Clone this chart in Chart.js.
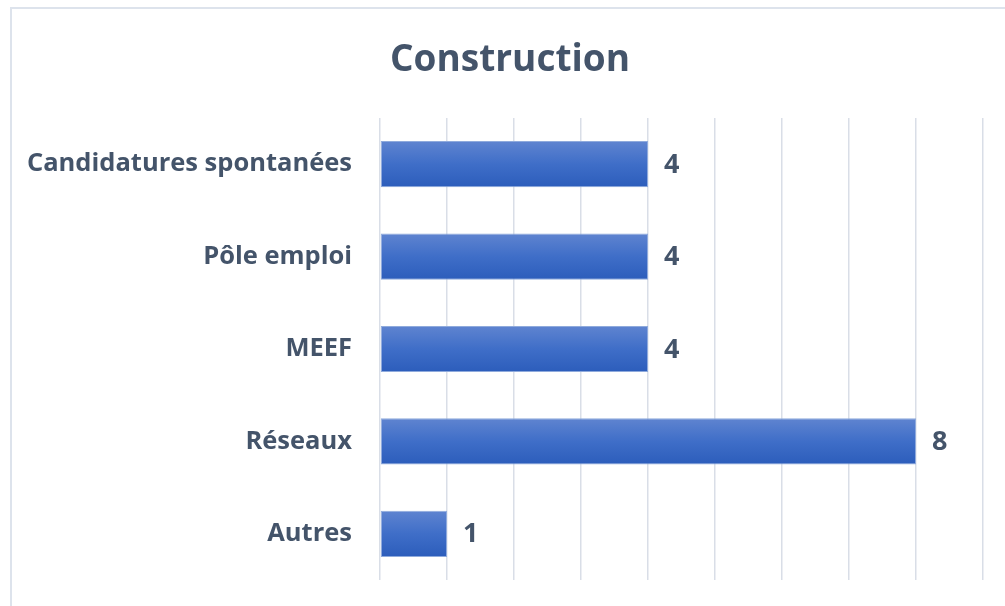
<!DOCTYPE html>
<html>
<head>
<meta charset="utf-8">
<script src="https://cdn.jsdelivr.net/npm/chart.js@4/dist/chart.umd.min.js"></script>
<style>
  html, body { margin: 0; padding: 0; background: #fff; overflow: hidden; }
  #frame { position: absolute; left: 10px; top: 7px; width: 1010px; height: 620px; border: 2px solid #DDE3EC; }
  #wrap { position: absolute; left: 0; top: 0; width: 1005px; height: 606px; }
</style>
</head>
<body>
<div id="frame"></div>
<div id="wrap"><canvas id="chart"></canvas></div>
<script>
const categories = ['Candidatures spontanées', 'Pôle emploi', 'MEEF', 'Réseaux', 'Autres'];
const values = [4, 4, 4, 8, 1];
const chartTitle = 'Construction';

const fontFamily = "'Open Sans', Lato, sans-serif";
const textColor = '#44546A';

// dégradé vertical sur chaque barre
function barGradient(context) {
  const chart = context.chart;
  const { ctx, chartArea, scales } = chart;
  if (!chartArea) return '#4472C4';
  const yc = scales.y.getPixelForValue(context.dataIndex);
  const band = chartArea.height / categories.length;
  const h = band * 0.5;
  const g = ctx.createLinearGradient(0, yc - h / 2, 0, yc + h / 2);
  g.addColorStop(0, '#5F84D0');
  g.addColorStop(0.5, '#3F6EC8');
  g.addColorStop(1, '#2C5DBB');
  return g;
}

// titre centré comme dans Excel (un peu à droite du centre)
const titlePlugin = {
  id: 'titreExcel',
  afterDraw(chart) {
    const { ctx } = chart;
    ctx.save();
    ctx.font = `bold 37px ${fontFamily}`;
    ctx.fillStyle = textColor;
    ctx.textAlign = 'center';
    ctx.textBaseline = 'middle';
    ctx.fillText(chartTitle, 510, 60);
    ctx.restore();
  }
};

const valueLabels = {
  id: 'valueLabels',
  afterDatasetsDraw(chart) {
    const { ctx } = chart;
    const meta = chart.getDatasetMeta(0);
    ctx.save();
    ctx.font = `bold 27px ${fontFamily}`;
    ctx.fillStyle = textColor;
    ctx.textAlign = 'left';
    ctx.textBaseline = 'middle';
    meta.data.forEach((bar, i) => {
      ctx.fillText(String(values[i]), bar.x + 16, bar.y + 1);
    });
    ctx.restore();
  }
};

new Chart(document.getElementById('chart'), {
  type: 'bar',
  data: {
    labels: categories,
    datasets: [{
      data: values,
      backgroundColor: barGradient,
      borderColor: '#8FAADC',
      borderWidth: 1,
      borderSkipped: false,
      barPercentage: 0.5,
      categoryPercentage: 1,
    }]
  },
  options: {
    indexAxis: 'y',
    responsive: true,
    maintainAspectRatio: false,
    animation: false,
    layout: { padding: { left: 0, right: 22, top: 118, bottom: 26 } },
    plugins: {
      legend: { display: false },
      tooltip: { enabled: false },
      title: { display: false }
    },
    scales: {
      x: {
        min: 0, max: 9,
        ticks: { display: false, stepSize: 1 },
        grid: { color: '#D9DEE7', lineWidth: 1.5, drawTicks: false },
        border: { display: false },
      },
      y: {
        ticks: { color: textColor, font: { family: fontFamily, size: 25.5, weight: 'bold' }, padding: 28 },
        grid: { display: false, drawTicks: false },
        border: { display: false },
        afterFit(scale) {
          scale.width = 380;
          scale.paddingTop = 0;
          scale.paddingBottom = 0;
        },
      }
    }
  },
  plugins: [valueLabels, titlePlugin]
});
</script>
</body>
</html>
